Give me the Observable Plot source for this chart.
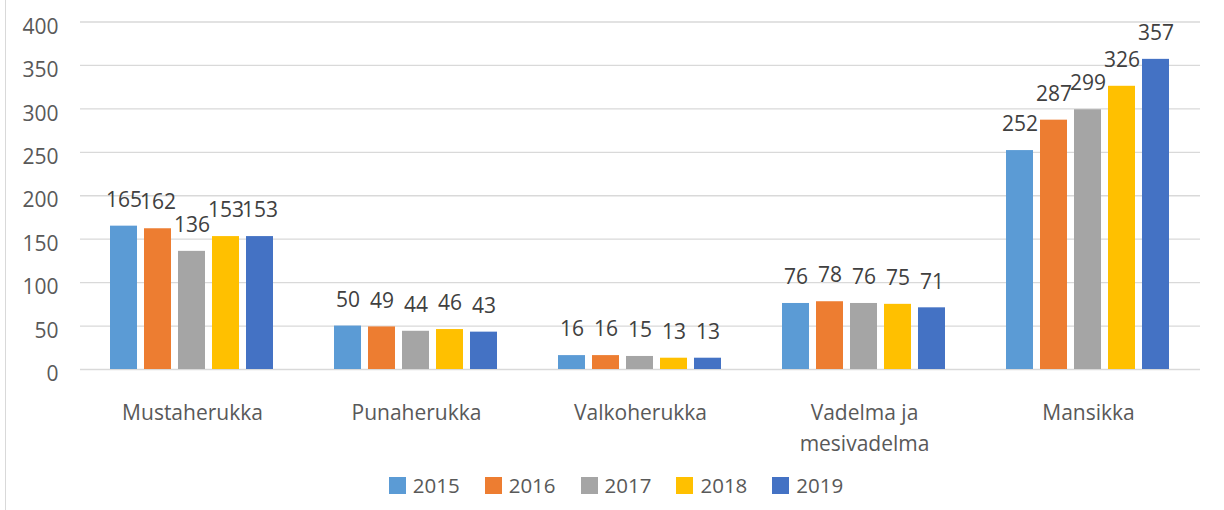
<!DOCTYPE html>
<html>
<head>
<meta charset="utf-8">
<script src="https://cdn.jsdelivr.net/npm/d3@7"></script>
<script src="https://cdn.jsdelivr.net/npm/@observablehq/plot@0.6"></script>
<style>
  html, body { margin: 0; padding: 0; background: #fff; }
  #wrap { position: relative; width: 1224px; height: 510px; font-family: "Open Sans", sans-serif; }
  #frame { position: absolute; left: 5px; top: 0; bottom: 0; border-left: 1.5px solid #d9d9d9; }
  #chart { position: absolute; left: 0; top: 0; }
  #legend { position: absolute; top: 471px; left: 0; width: 1224px; display: flex; justify-content: center; align-items: center; padding-left: 8px; box-sizing: border-box; }
  .item { display: flex; align-items: center; margin-right: 25px; font-size: 20.5px; color: #595959; }
  .item:last-child { margin-right: 0; }
  .sw { width: 17px; height: 17px; margin-right: 7px; }
</style>
</head>
<body>
<div id="wrap">
  <div id="frame"></div>
  <div id="chart"></div>
  <div id="legend"></div>
</div>
<script>
// Categories (x groups)
const categories = ["Mustaherukka", "Punaherukka", "Valkoherukka", "Vadelma ja mesivadelma", "Mansikka"];
const categoryLabels = ["Mustaherukka", "Punaherukka", "Valkoherukka", "Vadelma ja\nmesivadelma", "Mansikka"];
// Series (years)
const years = ["2015", "2016", "2017", "2018", "2019"];
const colors = ["#5B9BD5", "#ED7D31", "#A5A5A5", "#FFC000", "#4472C4"];
// Values per year, in category order
const v2015 = [165, 50, 16, 76, 252];
const v2016 = [162, 49, 16, 78, 287];
const v2017 = [136, 44, 15, 76, 299];
const v2018 = [153, 46, 13, 75, 326];
const v2019 = [153, 43, 13, 71, 357];
const yTicks = [0, 50, 100, 150, 200, 250, 300, 350, 400];

const series = [v2015, v2016, v2017, v2018, v2019];
const data = [];
categories.forEach((c, i) => {
  years.forEach((y, j) => {
    data.push({category: c, year: y, value: series[j][i]});
  });
});
const labelOf = new Map(categories.map((c, i) => [c, categoryLabels[i]]));

const chart = Plot.plot({
  width: 1224,
  height: 468,
  marginLeft: 78,
  marginRight: 22,
  marginTop: 21.5,
  marginBottom: 99,
  style: {fontFamily: "Open Sans, sans-serif", fontSize: "21px", background: "transparent"},
  fx: {domain: categories, paddingInner: 0, paddingOuter: 0, label: null},
  x: {domain: years, paddingInner: 0.2, paddingOuter: 0.83, axis: null},
  y: {domain: [0, 400], label: null},
  color: {domain: years, range: colors},
  marks: [
    Plot.gridY(yTicks, {stroke: "#d9d9d9", strokeOpacity: 1, strokeWidth: 1.3}),
    Plot.barY(data, {fx: "category", x: "year", y: "value", fill: "year"}),
    Plot.text(data, {fx: "category", x: "year", y: "value", text: d => String(d.value), dy: -26, fill: "#404040", fontSize: 21}),
    Plot.axisY({ticks: yTicks, tickSize: 0, tickPadding: 22, dy: 5, fill: "#595959", fontSize: 21, label: null}),
    Plot.axisFx({anchor: "bottom", tickSize: 0, tickPadding: 29, tickFormat: d => labelOf.get(d), lineHeight: 1.45, fill: "#595959", fontSize: 21, label: null})
  ]
});
document.getElementById("chart").appendChild(chart);

const legend = document.getElementById("legend");
years.forEach((y, j) => {
  const item = document.createElement("div");
  item.className = "item";
  const sw = document.createElement("div");
  sw.className = "sw";
  sw.style.background = colors[j];
  const t = document.createElement("span");
  t.textContent = y;
  item.appendChild(sw);
  item.appendChild(t);
  legend.appendChild(item);
});
</script>
</body>
</html>
